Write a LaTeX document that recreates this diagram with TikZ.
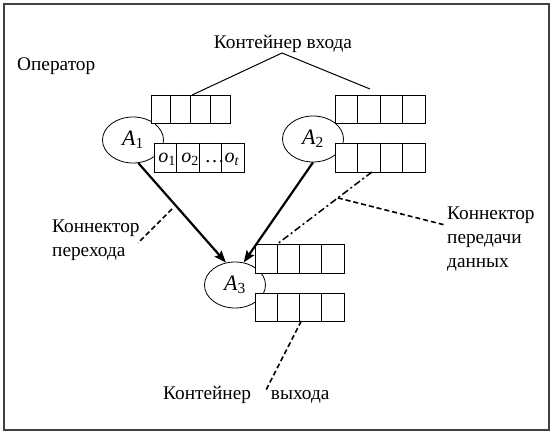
\documentclass[tikz,border=0pt]{standalone}
\usepackage{fontspec}
\setmainfont{Liberation Serif}
\usetikzlibrary{shapes.geometric,arrows.meta,calc}
\newcommand\celllines[1]{\foreach \f in {0.25,0.5,0.75}{\draw[line width=0.9pt] ($(#1.north west)!\f!(#1.north east)$) -- ($(#1.south west)!\f!(#1.south east)$);}}
\begin{document}
\begin{tikzpicture}[x=1pt,y=-1pt,
  txt/.style={font=\fontsize{19.3}{24}\selectfont, inner sep=0pt, align=left},
  oper/.style={draw, ellipse, line width=0.8pt, minimum width=61pt, minimum height=46pt, inner sep=0pt, font=\fontsize{22}{24}\selectfont},
  cont/.style={draw, fill=white, line width=0.9pt, minimum height=28pt, inner sep=0pt, outer sep=0pt},
  cellt/.style={font=\fontsize{20}{24}\selectfont, inner sep=0pt},
  trans/.style={line width=2.2pt, -{Stealth[length=12pt,width=9pt,inset=2pt]}},
  datal/.style={line width=1.5pt, dash pattern=on 7pt off 3pt on 2pt off 3pt},
  callout/.style={line width=1.6pt, dash pattern=on 5pt off 3pt},
  plain/.style={line width=1pt}]
\useasboundingbox (0,0) rectangle (552,433);
\draw[line width=1.5pt, draw=black!75] (4,4) rectangle (549,430);

% operators
\node[oper] (e1) at (133,140) {\textit{A}\textsubscript{1}};
\node[oper] (e2) at (313,139) {\textit{A}\textsubscript{2}};
\node[oper] (e3) at (235,285) {\textit{A}\textsubscript{3}};

% containers
\node[cont, minimum width=79pt] (in1) at (190.5,109) {};
\node[cont, minimum width=90pt, minimum height=29pt] (out1) at (199,157.5) {};
\node[cont, minimum width=90pt] (in2) at (380,109) {};
\node[cont, minimum width=90pt, minimum height=29pt] (out2) at (380,157.5) {};
\node[cont, minimum width=89pt, minimum height=29pt] (in3) at (299.5,258.5) {};
\node[cont, minimum width=89pt] (out3) at (299.5,307) {};
\celllines{in1}\celllines{out1}\celllines{in2}\celllines{out2}\celllines{in3}\celllines{out3}

\node[cellt] (o1) at (167,159) {\textit{o}\textsubscript{1}};
\node[cellt] (o2) at (190,159) {\textit{o}\textsubscript{2}};
\node[cellt] (ot) at (222,159) {\ldots\textit{o}\textsubscript{\textit{t}}};

% texts
\node[txt, anchor=west] (oplabel) at (17,66) {Оператор};
\node[txt] (inlabel) at (283,44) {Контейнер входа};
\node[txt, anchor=west] (trlabel) at (52,240) {Коннектор\\перехода};
\node[txt, anchor=west] (dlabel) at (447,239) {Коннектор\\передачи\\данных};
\node[txt, anchor=west] (outlabel) at (163,395) {Контейнер\hspace{20pt}выхода};

% transition connectors
\draw[trans] (e1.-77) -- (e3.112);
\draw[trans] (e2.-90) -- (e3.69);

% data connector
\coordinate (ds) at ($(out2.south west)!0.41!(out2.south east)$);
\coordinate (de) at ($(in3.north west)!0.25!(in3.north east)$);
\draw[datal] (ds) -- (de);

% input container callout
\coordinate (apex) at (282,53);
\coordinate (in2end) at (370,89);
\draw[plain] ($(in1.north west)!0.52!(in1.north east)$) -- (apex) -- (in2end);

% callouts
\coordinate (trA) at (172,209);
\coordinate (trB) at (138,243);
\draw[callout] (trA) -- (trB);
\coordinate (dA) at ($(ds)!0.36!(de)$);
\coordinate (dB) at (445,225);
\draw[callout] (dA) -- (dB);
\coordinate (oA) at ($(out3.south west)!0.52!(out3.south east)$);
\coordinate (oB) at (266,390);
\draw[callout] (oA) -- (oB);
\end{tikzpicture}
\end{document}
